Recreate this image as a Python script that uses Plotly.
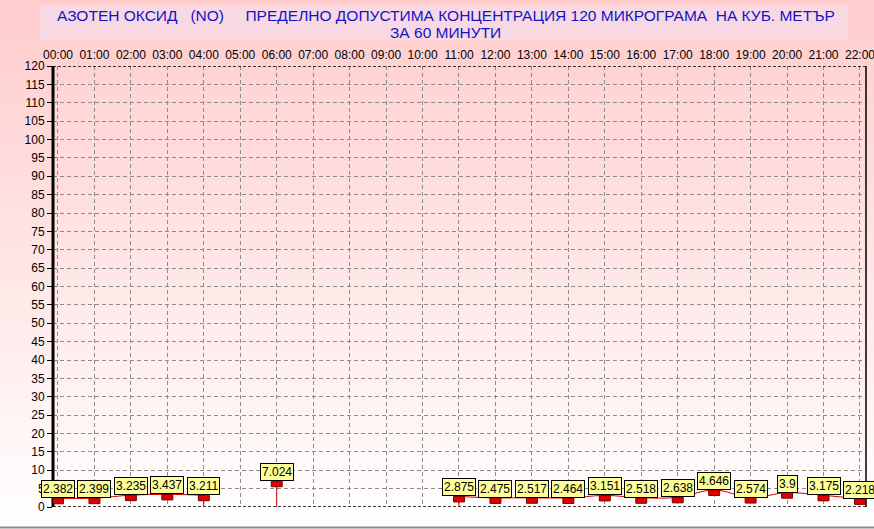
import plotly.graph_objects as go

# ---------------- data ----------------
hour_labels = ["00:00", "01:00", "02:00", "03:00", "04:00", "05:00", "06:00", "07:00",
               "08:00", "09:00", "10:00", "11:00", "12:00", "13:00", "14:00", "15:00",
               "16:00", "17:00", "18:00", "19:00", "20:00", "21:00", "22:00"]
no_values = [2.382, 2.399, 3.235, 3.437, 3.211, None, 7.024, None, None, None, None,
             2.875, 2.475, 2.517, 2.464, 3.151, 2.518, 2.638, 4.646, 2.574, 3.9, 3.175, 2.218]
y_tick_values = list(range(0, 121, 5))
title_line1 = "АЗОТЕН ОКСИД   (NO)     ПРЕДЕЛНО ДОПУСТИМА КОНЦЕНТРАЦИЯ 120 МИКРОГРАМА  НА КУБ. МЕТЪР"
title_line2 = "ЗА 60 МИНУТИ"

# ---------------- geometry ----------------
W, H = 874, 529
ML, MR, MT, MB = 53, 8, 66, 22
PW, PH = W - ML - MR, H - MT - MB
x_pos = list(range(len(hour_labels)))
X_RANGE = [-0.137, 22.165]
Y_RANGE = [0, 120]


def px_to_paper_x(px):
    return (px - ML) / PW


def px_to_paper_y(py):
    return (H - MB - py) / PH


def nbsp(s):
    return s.replace(" ", "\u00a0")


shapes = []

# background gradient (pink at top to white at bottom)
N = 120
top = (255, 204, 204)
bot = (255, 255, 255)
for k in range(N):
    p0 = H * k / N
    p1 = H * (k + 1) / N
    t = (k + 0.5) / N
    c = tuple(round(top[j] + (bot[j] - top[j]) * t) for j in range(3))
    shapes.append(dict(type="rect", xref="paper", yref="paper", layer="below",
                       x0=px_to_paper_x(0), x1=px_to_paper_x(W),
                       y0=px_to_paper_y(p1), y1=px_to_paper_y(p0) + 0.002,
                       fillcolor="rgb(%d,%d,%d)" % c, line=dict(width=0)))

# title box
shapes.append(dict(type="rect", xref="paper", yref="paper", layer="below",
                   x0=px_to_paper_x(40), x1=px_to_paper_x(848),
                   y0=px_to_paper_y(40), y1=px_to_paper_y(5),
                   fillcolor="#F8D8E2", line=dict(width=0)))

# bottom grey border
shapes.append(dict(type="line", xref="paper", yref="paper", layer="above",
                   x0=px_to_paper_x(0), x1=px_to_paper_x(W),
                   y0=px_to_paper_y(527.5), y1=px_to_paper_y(527.5),
                   line=dict(color="#8a8a8a", width=2)))

# frame
shapes.append(dict(type="line", xref="paper", yref="y", layer="above",
                   x0=0, x1=1, y0=Y_RANGE[1], y1=Y_RANGE[1],
                   line=dict(color="black", width=1.5, dash="3px,2px")))
shapes.append(dict(type="line", xref="paper", yref="y", layer="above",
                   x0=0, x1=1, y0=0, y1=0,
                   line=dict(color="black", width=1.5, dash="3px,2px")))
shapes.append(dict(type="line", xref="paper", yref="paper", layer="above",
                   x0=1, x1=1, y0=0, y1=1, line=dict(color="black", width=1.5)))
shapes.append(dict(type="line", xref="paper", yref="paper", layer="above",
                   x0=0, x1=0, y0=0, y1=1, line=dict(color="black", width=3)))

# stems at gap boundaries and rectangle markers
n = len(no_values)
for i, v in enumerate(no_values):
    if v is None:
        continue
    prev_gap = i > 0 and no_values[i - 1] is None
    next_gap = i < n - 1 and no_values[i + 1] is None
    if prev_gap or next_gap:
        shapes.append(dict(type="line", xref="x", yref="y", layer="above",
                           x0=x_pos[i], x1=x_pos[i], y0=0, y1=v,
                           line=dict(color="#CC0000", width=1)))
for i, v in enumerate(no_values):
    if v is None:
        continue
    shapes.append(dict(type="rect", xref="x", yref="y", layer="above",
                       x0=x_pos[i] - 0.15, x1=x_pos[i] + 0.15, y0=v - 1.5, y1=v,
                       fillcolor="#E00000", line=dict(color="#7a0000", width=1)))

annotations = []
for i, v in enumerate(no_values):
    if v is None:
        continue
    annotations.append(dict(x=x_pos[i], y=v, xref="x", yref="y", text=str(v),
                            showarrow=False, yanchor="bottom", xanchor="center",
                            bgcolor="#FFFF99", bordercolor="black", borderwidth=1,
                            borderpad=1,
                            font=dict(family="Liberation Sans, Arial", size=12, color="black")))

annotations.append(dict(x=px_to_paper_x(445.5), y=px_to_paper_y(15.5), xref="paper", yref="paper",
                        text=nbsp(title_line1), showarrow=False, xanchor="center", yanchor="middle",
                        font=dict(family="Liberation Sans, Arial", size=15.5, color="#1414C8")))
annotations.append(dict(x=px_to_paper_x(445.5), y=px_to_paper_y(32.5), xref="paper", yref="paper",
                        text=nbsp(title_line2), showarrow=False, xanchor="center", yanchor="middle",
                        font=dict(family="Liberation Sans, Arial", size=15.5, color="#1414C8")))

fig = go.Figure()
fig.add_trace(go.Scatter(x=x_pos, y=no_values, mode="lines", connectgaps=False,
                         line=dict(color="#CC0000", width=1, shape="spline"),
                         hoverinfo="skip", showlegend=False))

fig.update_layout(
    width=W, height=H,
    margin=dict(l=ML, r=MR, t=MT, b=MB, pad=0, autoexpand=False),
    paper_bgcolor="white",
    plot_bgcolor="rgba(0,0,0,0)",
    shapes=shapes,
    annotations=annotations,
    showlegend=False,
    font=dict(family="Liberation Sans, Arial", size=12, color="black"),
    xaxis=dict(range=X_RANGE, side="top", tickvals=x_pos, ticktext=hour_labels,
               showgrid=True, gridcolor="#8c8c8c", griddash="4px,3px", gridwidth=1,
               zeroline=False, showline=False, ticks="", ticklabelstandoff=4,
               automargin=False, ticklabeloverflow="allow",
               tickfont=dict(size=12, color="black")),
    yaxis=dict(range=Y_RANGE, tickvals=y_tick_values,
               showgrid=True, gridcolor="#8c8c8c", griddash="4px,3px", gridwidth=1,
               zeroline=False, showline=False, ticks="outside", ticklen=5,
               tickcolor="black", tickwidth=1, automargin=False,
               ticklabeloverflow="allow",
               tickfont=dict(size=12, color="black")),
)

fig.write_html("out.html", config={"displayModeBar": False},
               post_script="document.body.style.margin='0px';")
